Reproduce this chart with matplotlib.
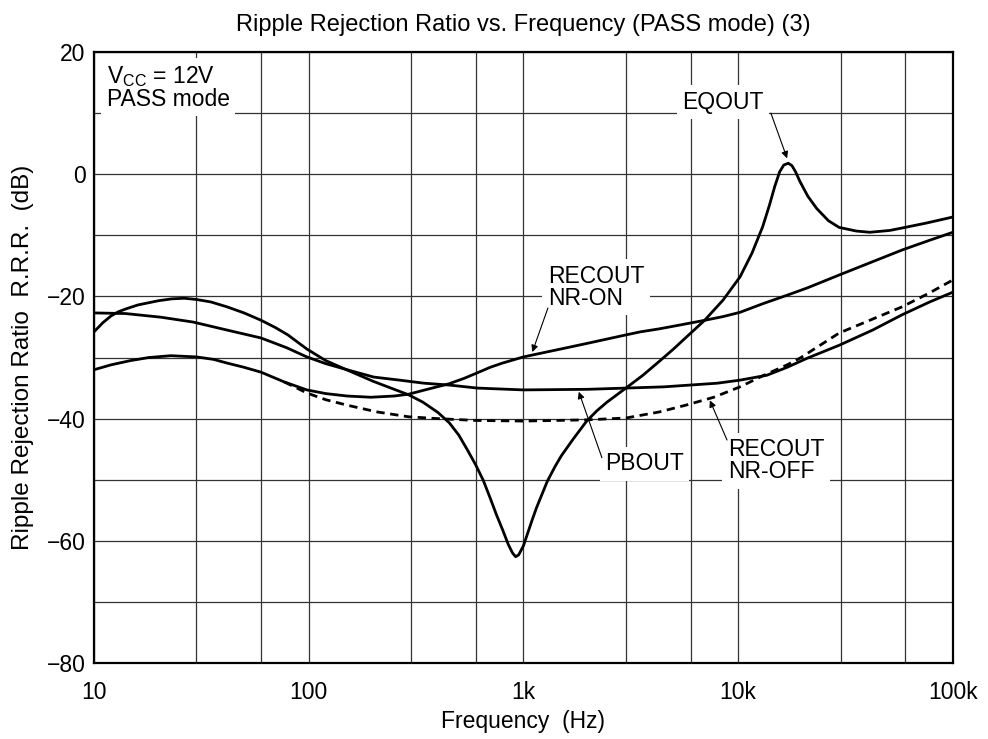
import numpy as np
import matplotlib
matplotlib.use('Agg')
import matplotlib.pyplot as plt

plt.rcParams['font.family'] = ['Liberation Sans', 'DejaVu Sans']
plt.rcParams['mathtext.fontset'] = 'custom'
plt.rcParams['mathtext.rm'] = 'Liberation Sans'
plt.rcParams['mathtext.it'] = 'Liberation Sans:italic'

# EQOUT
eq_f = [10, 11, 12, 13, 14.2, 16, 17.6, 20, 23, 26.3, 30, 35, 41.6, 50, 60, 70,
        80, 98, 120, 150, 200, 250, 292, 340, 400, 452, 500, 550, 600, 650,
        700, 750, 800, 850, 890, 920, 950, 980, 1000, 1050, 1100, 1150, 1200,
        1290, 1400, 1500, 1700, 1970, 2200, 2450, 3000, 3600, 4300, 5000, 5760,
        6980, 8500, 10200, 11600, 13000, 14000, 14800, 15600, 16300, 17100,
        17800, 18500, 19400, 21100, 23200, 26300, 29500, 35500, 41000, 50800,
        58000, 75000, 100000]
eq_db = [-25.8, -24.3, -23.2, -22.5, -22.0, -21.4, -21.1, -20.7, -20.4, -20.3,
         -20.5, -20.9, -21.7, -22.7, -23.9, -25.1, -26.3, -28.6, -30.5, -32.0,
         -33.9, -35.2, -36.1, -37.3, -39.0, -40.7, -42.7, -45.2, -47.6, -50.1,
         -53.0, -55.8, -58.2, -60.6, -62.0, -62.6, -62.3, -61.4, -60.8, -58.6,
         -56.5, -54.6, -53.0, -50.3, -47.9, -46.1, -43.4, -40.4, -38.7, -37.3,
         -35.0, -32.9, -30.6, -28.6, -26.6, -23.9, -20.6, -16.8, -12.9, -8.6,
         -5.0, -2.0, 0.4, 1.5, 1.8, 1.4, 0.4, -1.2, -3.6, -5.6, -7.6, -8.7,
         -9.3, -9.5, -9.2, -8.8, -8.0, -7.0]

# PBOUT
pb_f = [10, 14, 20.5, 29, 41.6, 60, 79, 98, 120, 151, 201, 265, 344, 450, 610,
        1000, 2000, 3000, 4500, 6000, 8000, 10200, 13600, 16900, 21000, 29500,
        42300, 58000, 78000, 100000]
pb_db = [-22.7, -22.8, -23.4, -24.2, -25.5, -26.8, -28.4, -29.9, -31.0, -32.0,
         -33.2, -33.7, -34.2, -34.5, -35.0, -35.3, -35.2, -35.0, -34.8, -34.5,
         -34.2, -33.7, -32.9, -31.6, -30.1, -28.0, -25.5, -23.0, -20.9, -19.3]

# RECOUT NR-ON
on_f = [10, 12, 14.8, 18, 22.8, 30, 36, 41.6, 50, 60, 77, 98, 120, 151, 195,
        250, 292, 348, 450, 530, 610, 700, 800, 1000, 1590, 2030, 3000, 3500,
        4300, 5500, 7000, 8500, 10200, 13000, 16900, 21000, 29500, 41000, 58000,
        78000, 100000]
on_db = [-32.0, -31.2, -30.5, -30.0, -29.7, -29.9, -30.3, -30.9, -31.6, -32.4,
         -34.0, -35.3, -35.9, -36.3, -36.5, -36.3, -36.0, -35.3, -34.3, -33.4,
         -32.5, -31.6, -30.9, -29.9, -28.4, -27.6, -26.3, -25.8, -25.3, -24.6,
         -23.9, -23.3, -22.6, -21.2, -19.8, -18.6, -16.5, -14.5, -12.4, -10.8,
         -9.5]

# RECOUT NR-OFF (splits from NR-ON near 80 Hz)
off_f = [77, 98, 120, 151, 208, 292, 400, 600, 1000, 1970, 3000, 4300, 5700,
         7700, 10200, 13000, 16900, 19400, 29500, 41000, 58000, 78000, 100000]
off_db = [-34.0, -35.8, -36.9, -37.8, -38.9, -39.7, -40.0, -40.3, -40.4, -40.2,
          -39.9, -38.9, -37.8, -36.5, -34.8, -33.0, -31.2, -30.1, -26.0, -23.9,
          -21.7, -19.4, -17.3]

x_major = [10, 100, 1000, 10000, 100000]
x_labels = ['10', '100', '1k', '10k', '100k']
x_minor = [30, 60, 300, 600, 3000, 6000, 30000, 60000]

fs = 16.5

fig = plt.figure(figsize=(9.88, 7.39), dpi=100)
ax = fig.add_axes([0.0951, 0.1028, 0.8694, 0.8268])

ax.plot(eq_f, eq_db, color='k', lw=2.0, solid_joinstyle='round')
ax.plot(pb_f, pb_db, color='k', lw=2.0, solid_joinstyle='round')
ax.plot(on_f, on_db, color='k', lw=2.0, solid_joinstyle='round')
ax.plot(off_f, off_db, color='k', lw=2.0, dashes=(3, 2))

ax.set_xscale('log')
ax.set_xlim(10, 100000)
ax.set_ylim(-80, 20)
ax.set_xticks(x_major, x_labels)
ax.set_xticks(x_minor, minor=True)
ax.xaxis.set_minor_formatter(matplotlib.ticker.NullFormatter())
ax.set_yticks(np.arange(-80, 21, 20))
ax.set_yticks(np.arange(-70, 20, 20), minor=True)
ax.tick_params(which='both', length=0, labelsize=fs)
ax.tick_params(axis='x', pad=13)
ax.tick_params(axis='y', pad=6)
ax.grid(which='both', color='0.2', lw=0.9)
ax.set_axisbelow(True)
for s in ax.spines.values():
    s.set_linewidth(1.6)

ax.set_title('Ripple Rejection Ratio vs. Frequency (PASS mode) (3)',
             fontsize=17, pad=15)
ax.set_xlabel('Frequency  (Hz)', fontsize=fs, labelpad=4)
ax.set_ylabel('Ripple Rejection Ratio  R.R.R.  (dB)', fontsize=17.5, labelpad=9)

box = dict(facecolor='white', edgecolor='none', pad=4)
ax.text(11.5, 14.2, 'V$_{\\rm CC}$ = 12V\nPASS mode', fontsize=fs,
        ha='left', va='center', bbox=box, linespacing=0.95)
ax.text(8500, 11.8, 'EQOUT', fontsize=fs, ha='center', va='center', bbox=box)
ax.text(1300, -18.5, 'RECOUT\nNR-ON', fontsize=fs, ha='left', va='center',
        bbox=box, linespacing=0.95)
ax.text(2400, -47.4, 'PBOUT', fontsize=fs, ha='left', va='center', bbox=box)
ax.text(8950, -46.9, 'RECOUT\nNR-OFF', fontsize=fs, ha='left', va='center',
        bbox=box, linespacing=0.95)

arrow = dict(arrowstyle='-|>', color='k', lw=0.8, mutation_scale=10,
             shrinkA=0, shrinkB=0)
ax.annotate('', xy=(16900, 2.6), xytext=(14200, 10.0), arrowprops=arrow)
ax.annotate('', xy=(1100, -29.1), xytext=(1300, -21.9), arrowprops=arrow)
ax.annotate('', xy=(1810, -35.6), xytext=(2320, -46.4), arrowprops=arrow)
ax.annotate('', xy=(7380, -37.0), xytext=(8870, -43.5), arrowprops=arrow)

fig.savefig('out.png', dpi=100)
